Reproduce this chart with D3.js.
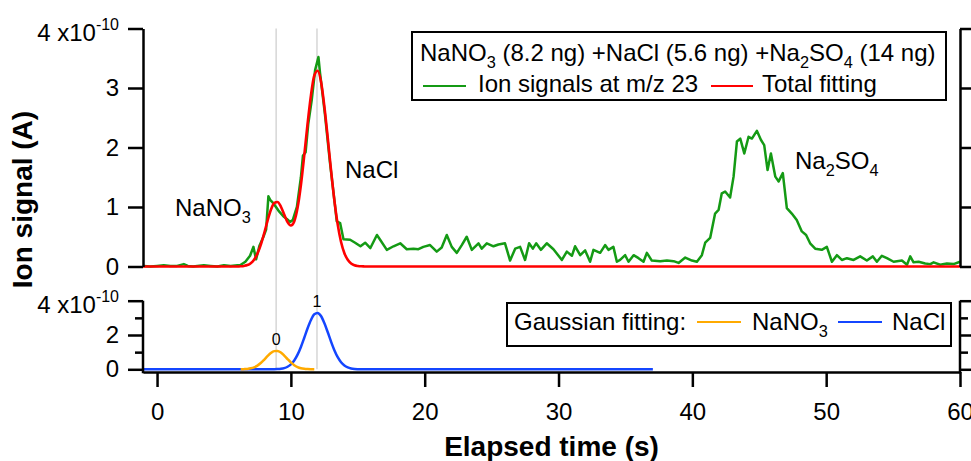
<!DOCTYPE html>
<html>
<head>
<meta charset="utf-8">
<script src="https://cdn.jsdelivr.net/npm/d3@7"></script>
<style>
  body { margin: 0; background: #fff; }
  svg { display: block; font-family: "Liberation Sans", Arial, sans-serif; }
</style>
</head>
<body>
<div id="chart"></div>
<script>
// tick values
const timeTicks = [0, 10, 20, 30, 40, 50, 60];
const topTicks = [0, 1, 2, 3, 4];
const bottomMajor = [0, 2, 4];
const bottomMinor = [1, 3];
const peakCentres = [8.9, 11.95];

// ion signal at m/z 23 (x1e-10 A)
const greenTime = [-1.0, -0.5, 0.0, 0.5, 1.0, 1.5, 2.0, 2.3, 2.7, 3.0, 3.5, 4.0, 4.5, 5.0, 5.5, 6.0,
  6.2, 6.6, 6.95, 7.2, 7.4, 7.65, 7.95, 8.15, 8.32, 8.45, 8.7, 9.07, 9.45, 9.7, 9.94, 10.14, 10.45,
  10.75, 10.9, 11.1, 11.3, 11.56, 11.81, 12.06, 12.18, 12.55, 12.92, 13.3, 13.43, 13.68, 13.93,
  14.43, 14.8, 15.2, 15.55, 15.94, 16.43, 16.67, 17.17, 17.67, 18.17, 18.66, 19.16, 19.53, 19.9,
  20.4, 20.9, 21.27, 21.65, 22.02, 22.4, 22.77, 23.14, 23.52, 24.02, 24.26, 24.64, 25.14, 25.51,
  26.0, 26.38, 26.76, 27.13, 27.5, 27.8, 28.08, 28.33, 28.68, 29.12, 29.62, 30.25, 30.62, 31.0,
  31.24, 31.62, 31.99, 32.36, 32.61, 33.11, 33.48, 33.73, 34.1, 34.36, 34.6, 34.98, 35.23, 35.61,
  35.98, 36.35, 36.6, 36.97, 37.6, 38.1, 38.6, 38.97, 39.47, 39.97, 40.34, 40.71, 40.96, 41.33,
  41.7, 41.96, 42.2, 42.45, 42.82, 43.08, 43.33, 43.58, 43.88, 44.2, 44.45, 44.82, 45.12, 45.37,
  45.62, 45.87, 46.2, 46.45, 46.76, 47.06, 47.43, 47.8, 48.18, 48.5, 48.8, 49.18, 49.67, 50.05,
  50.43, 50.8, 51.17, 51.55, 52.05, 52.54, 53.04, 53.49, 53.79, 54.16, 54.54, 55.04, 55.66, 56.04,
  56.28, 56.53, 56.91, 57.4, 57.78, 58.03, 58.52, 59.02, 59.52, 60.0];
const greenSignal = [0.01, 0.00, 0.01, 0.02, 0.01, 0.01, 0.04, 0.01, 0.00, 0.01, 0.02, 0.01, 0.00, 0.02, 0.01, 0.02,
  0.02, 0.08, 0.18, 0.33, 0.12, 0.35, 0.50, 0.62, 1.18, 1.12, 1.06, 0.94, 0.84, 0.80, 0.75, 0.78, 1.00,
  1.50, 1.86, 1.92, 2.40, 2.80, 3.30, 3.52, 3.25, 2.55, 1.75, 1.02, 0.76, 0.73, 0.46,
  0.45, 0.40, 0.34, 0.40, 0.31, 0.53, 0.45, 0.28, 0.34, 0.39, 0.29, 0.30, 0.29, 0.33,
  0.36, 0.25, 0.32, 0.53, 0.33, 0.23, 0.36, 0.50, 0.28, 0.39, 0.30, 0.39, 0.34, 0.37,
  0.39, 0.10, 0.30, 0.33, 0.11, 0.39, 0.30, 0.39, 0.28, 0.39, 0.29, 0.11, 0.25, 0.18,
  0.34, 0.19, 0.27, 0.08, 0.28, 0.23, 0.36, 0.28, 0.33, 0.08, 0.11, 0.19, 0.08, 0.19,
  0.14, 0.08, 0.23, 0.10, 0.09, 0.10, 0.09, 0.06, 0.15, 0.10, 0.08, 0.19, 0.40, 0.48,
  0.89, 0.95, 1.23, 1.26, 1.16, 1.51, 2.10, 2.15, 1.90, 2.18, 2.15, 2.28, 2.13, 2.04,
  1.62, 1.90, 1.51, 1.43, 1.57, 0.98, 0.89, 0.78, 0.59, 0.53, 0.39, 0.30, 0.28, 0.33,
  0.08, 0.19, 0.11, 0.14, 0.11, 0.17, 0.10, 0.17, 0.08, 0.18, 0.14, 0.08, 0.10, 0.03,
  0.17, 0.07, 0.08, 0.05, 0.04, 0.07, 0.03, 0.05, 0.04, 0.08];

// fitted curves, sampled every 0.25 s
const fitStep = 0.25;
const nano3Start = 6.25;
const nano3Fit = [0.003, 0.010, 0.024, 0.056, 0.115, 0.216, 0.364, 0.555, 0.763, 0.947, 1.060, 1.071,
  0.977, 0.803, 0.596, 0.400, 0.241, 0.132, 0.065, 0.029, 0.012, 0.004, 0.001];
const naclStart = 8.5;
const naclEnd = 37.05;
const naclFit = [0.002, 0.005, 0.013, 0.031, 0.071, 0.149, 0.289, 0.517, 0.854, 1.304, 1.838, 2.392,
  2.873, 3.210, 3.290, 3.110, 2.696, 2.173, 1.618, 1.112, 0.705, 0.413, 0.224, 0.112, 0.052, 0.022,
  0.009, 0.003, 0.001];
const totalStart = 6.25;
const totalFit = [0.003, 0.010, 0.024, 0.056, 0.115, 0.216, 0.364, 0.555, 0.763, 0.949, 1.065, 1.084,
  1.008, 0.874, 0.745, 0.689, 0.758, 0.986, 1.369, 1.867, 2.404, 2.877, 3.211, 3.290, 3.110, 2.696,
  2.173, 1.618, 1.112, 0.705, 0.413, 0.224, 0.112, 0.052, 0.022, 0.009, 0.003, 0.001];

const W = 971, H = 461;
const svg = d3.select("#chart").append("svg").attr("width", W).attr("height", H);

const x = d3.scaleLinear().domain([-1.05, 60]).range([143, 960]);
const yTop = d3.scaleLinear().domain([0, 4]).range([266.5, 28.5]);
const yBot = d3.scaleLinear().domain([0, 4]).range([369.3, 300.7]);
const axisY = 372;

// turn sampled values into points, padded with zeros out to an end time
function sampled(start, vals, from, to) {
  const pts = vals.map((v, i) => [start + i * fitStep, v]);
  const last = pts[pts.length - 1][0];
  return [[from, 0], [start - fitStep, 0], ...pts, [last + fitStep, 0], [to, 0]];
}

// text with _N subscripts
function richText(sel, px, py, str, size) {
  const t = sel.append("text").attr("x", px).attr("y", py).attr("font-size", size);
  let shift = 0;
  str.split(/(_\d)/).filter(s => s.length).forEach(s => {
    const sub = s[0] === "_";
    const target = sub ? size * 0.3 : 0;
    t.append("tspan")
      .attr("dy", target - shift)
      .attr("font-size", sub ? size * 0.68 : size)
      .text(sub ? s.slice(1) : s);
    shift = target;
  });
  return t;
}

// gray guide lines at the peak centres
svg.selectAll(".guide").data(peakCentres).enter().append("line")
  .attr("x1", d => x(d)).attr("x2", d => x(d))
  .attr("y1", yTop(4)).attr("y2", yBot(0))
  .attr("stroke", "#d6d6d6").attr("stroke-width", 1.5);

// top panel curves
const lineTop = d3.line().x(d => x(d[0])).y(d => yTop(d[1]));
svg.append("path")
  .datum(greenTime.map((t, i) => [t, greenSignal[i]]))
  .attr("d", lineTop)
  .attr("fill", "none").attr("stroke", "#149a14").attr("stroke-width", 2.5)
  .attr("stroke-linejoin", "round");
svg.append("path")
  .datum(sampled(totalStart, totalFit, x.domain()[0], 60))
  .attr("d", lineTop.curve(d3.curveMonotoneX))
  .attr("fill", "none").attr("stroke", "#ff0000").attr("stroke-width", 2.6);

// bottom panel curves
const lineBot = d3.line().x(d => x(d[0])).y(d => yBot(d[1])).curve(d3.curveMonotoneX);
svg.append("path")
  .datum(sampled(naclStart, naclFit, x.domain()[0], naclEnd))
  .attr("d", lineBot)
  .attr("fill", "none").attr("stroke", "#1446ff").attr("stroke-width", 2.5);
svg.append("path")
  .datum(nano3Fit.map((v, i) => [nano3Start + i * fitStep, v]))
  .attr("d", lineBot)
  .attr("fill", "none").attr("stroke", "#ffaa00").attr("stroke-width", 2.5);

svg.append("text").attr("x", x(peakCentres[0])).attr("y", yBot(1.08) - 6)
  .attr("text-anchor", "middle").attr("font-size", 16).text("0");
svg.append("text").attr("x", x(peakCentres[1])).attr("y", yBot(3.29) - 6)
  .attr("text-anchor", "middle").attr("font-size", 16).text("1");

// axes
function styleAxis(g) {
  g.attr("font-family", null).attr("font-size", 24);
  g.selectAll("path, line").attr("stroke", "#000").attr("stroke-width", 2.5);
  g.selectAll("text").attr("fill", "#000");
}

svg.append("g").attr("transform", "translate(143,0)")
  .call(d3.axisLeft(yTop).tickValues(topTicks).tickSize(15).tickSizeOuter(0).tickPadding(9)
    .tickFormat(d => d === 4 ? "" : d))
  .call(styleAxis);
svg.append("g").attr("transform", "translate(960,0)")
  .call(d3.axisRight(yTop).tickValues(topTicks).tickSize(15).tickSizeOuter(0).tickFormat(""))
  .call(styleAxis);

[143, 960].forEach((px, k) => {
  const dir = k === 0 ? d3.axisLeft : d3.axisRight;
  const gMaj = svg.append("g").attr("transform", `translate(${px},0)`)
    .call(dir(yBot).tickValues(bottomMajor).tickSize(15).tickSizeOuter(0).tickPadding(9)
      .tickFormat(d => (k === 0 && d !== 4) ? d : ""))
    .call(styleAxis);
  gMaj.select(".domain").remove();
  const gMin = svg.append("g").attr("transform", `translate(${px},0)`)
    .call(dir(yBot).tickValues(bottomMinor).tickSize(8).tickSizeOuter(0).tickFormat(""))
    .call(styleAxis);
  gMin.select(".domain").remove();
  svg.append("line").attr("x1", px).attr("x2", px)
    .attr("y1", yBot(4)).attr("y2", axisY + 1.25)
    .attr("stroke", "#000").attr("stroke-width", 2.5);
});

const gx = svg.append("g").attr("transform", `translate(0,${axisY})`)
  .call(d3.axisBottom(x).tickValues(timeTicks).tickSize(15).tickSizeOuter(0))
  .call(styleAxis);
gx.selectAll(".tick text").attr("y", 48).attr("dy", 0);

// "4 x10^-10" labels
[yTop(4), yBot(4)].forEach(ty => {
  const t = svg.append("text").attr("x", 119).attr("y", ty + 12)
    .attr("text-anchor", "end").attr("font-size", 24);
  t.append("tspan").text("4 x10");
  t.append("tspan").attr("dy", -10.5).attr("font-size", 16).text("-10");
});

// axis titles
svg.append("text").attr("x", 551.5).attr("y", 456)
  .attr("text-anchor", "middle").attr("font-size", 28).attr("font-weight", "bold")
  .text("Elapsed time (s)");
svg.append("text").attr("transform", "translate(32,199.5) rotate(-90)")
  .attr("text-anchor", "middle").attr("font-size", 28).attr("font-weight", "bold")
  .text("Ion signal (A)");

// peak annotations
richText(svg, 175, 216, "NaNO_3", 24);
richText(svg, 345, 178, "NaCl", 24);
richText(svg, 795, 168.5, "Na_2SO_4", 24);

// top legend
const lg = svg.append("g");
lg.append("rect").attr("x", 412).attr("y", 32).attr("width", 534).attr("height", 68)
  .attr("fill", "#fff").attr("stroke", "#000").attr("stroke-width", 2);
richText(lg, 420, 61, "NaNO_3 (8.2 ng) +NaCl (5.6 ng) +Na_2SO_4 (14 ng)", 24);
lg.append("line").attr("x1", 423).attr("x2", 466).attr("y1", 86).attr("y2", 86)
  .attr("stroke", "#149a14").attr("stroke-width", 2);
lg.append("text").attr("x", 478).attr("y", 92).attr("font-size", 24).text("Ion signals at m/z 23");
lg.append("line").attr("x1", 711).attr("x2", 753).attr("y1", 86).attr("y2", 86)
  .attr("stroke", "#ff0000").attr("stroke-width", 2);
lg.append("text").attr("x", 762).attr("y", 92).attr("font-size", 24).text("Total fitting");

// bottom legend
const lb = svg.append("g");
lb.append("rect").attr("x", 507).attr("y", 303).attr("width", 444).attr("height", 43)
  .attr("fill", "#fff").attr("stroke", "#000").attr("stroke-width", 2);
lb.append("text").attr("x", 514).attr("y", 330).attr("font-size", 24).text("Gaussian fitting:");
lb.append("line").attr("x1", 697).attr("x2", 741).attr("y1", 322).attr("y2", 322)
  .attr("stroke", "#ffaa00").attr("stroke-width", 2);
richText(lb, 752, 330, "NaNO_3", 24);
lb.append("line").attr("x1", 838).attr("x2", 882).attr("y1", 322).attr("y2", 322)
  .attr("stroke", "#1446ff").attr("stroke-width", 2);
lb.append("text").attr("x", 892).attr("y", 330).attr("font-size", 24).text("NaCl");
</script>
</body>
</html>
